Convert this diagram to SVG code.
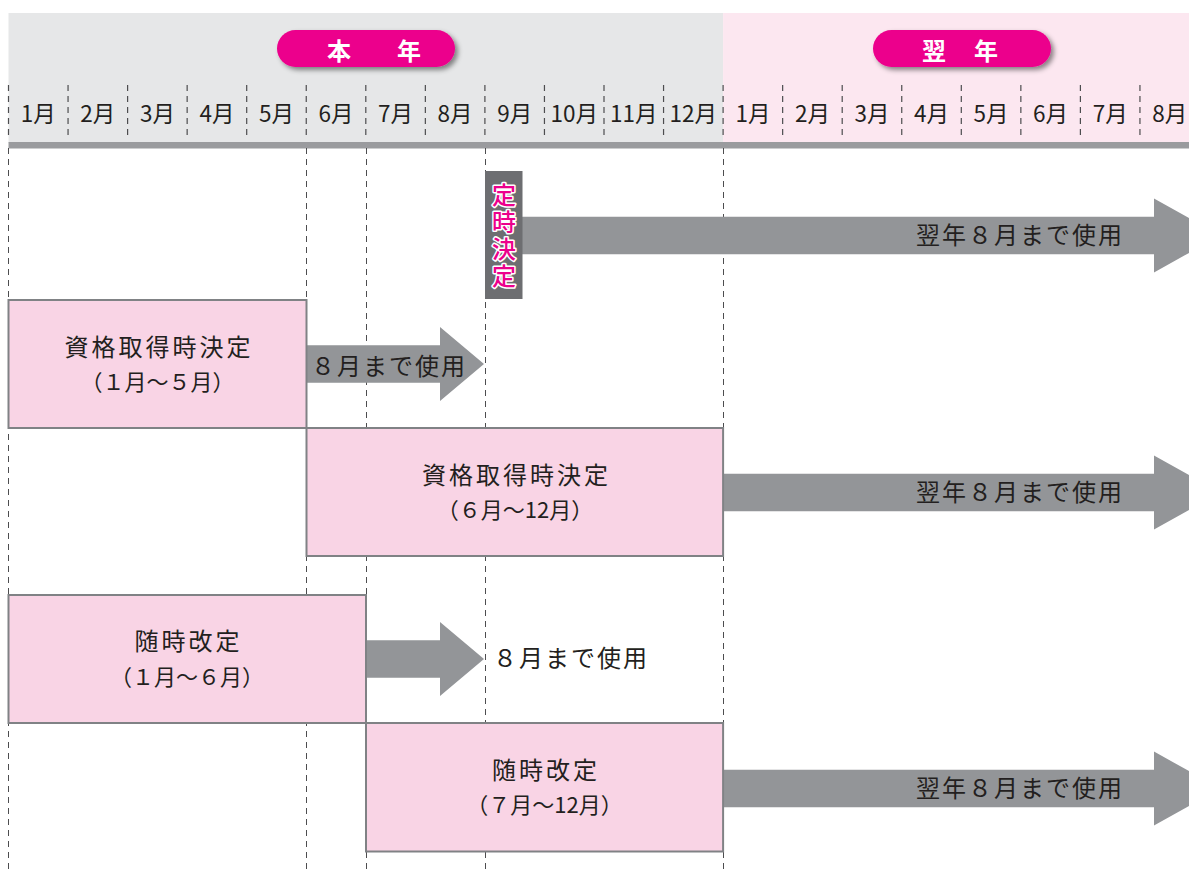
<svg xmlns="http://www.w3.org/2000/svg" width="1189" height="869" viewBox="0 0 1189 869">
<style>
text{font-family:"Noto Sans CJK JP","Noto Sans",sans-serif;fill:#231f20}
.m{font-size:22.5px;text-anchor:middle}
.pill{fill:#ec008c}
.pt{font-size:24px;font-weight:700;fill:#fff}
.hd{stroke:#4d4d4f;stroke-width:1.2;stroke-dasharray:6 5;fill:none}
.vd{stroke:#4d4d4f;stroke-width:1;stroke-dasharray:6 5;fill:none}
.box{fill:#f9d4e5;stroke:#808285;stroke-width:2}
.arr{fill:#939598}
.l1{font-size:24px;letter-spacing:3px;text-anchor:middle}
.l2{font-size:22px;text-anchor:middle}
.at{font-size:24px;letter-spacing:2px}
.vt{font-size:24px;font-weight:500;fill:#ec008c;stroke:#fff;stroke-width:3;paint-order:stroke;stroke-linejoin:round;letter-spacing:3px}
</style>
<defs>
<filter id="sh" x="-20%" y="-40%" width="140%" height="200%">
<feDropShadow dx="3" dy="3" stdDeviation="2.5" flood-color="#000" flood-opacity="0.45"/>
</filter>
</defs>
<rect width="1189" height="869" fill="#fff"/>
<g id="header">
<rect x="8.5" y="13" width="714.6" height="130" fill="#e6e7e8"/>
<rect x="723.1" y="13" width="466" height="130" fill="#fce7f0"/>
<rect x="8.5" y="142" width="1181" height="6.5" fill="#9a9b9e"/>
<g id="pill-honnen">
<rect class="pill" x="277" y="30" width="178" height="37" rx="18.5" filter="url(#sh)"/>
<text class="pt" x="327 397" y="60">本年</text>
</g>
<g id="pill-yokunen">
<rect class="pill" x="873" y="30" width="178" height="37" rx="18.5" filter="url(#sh)"/>
<text class="pt" x="922 974" y="60">翌年</text>
</g>
<g id="month-dividers">
<path class="hd" d="M8.5,85V138M68.05,85V138M127.6,85V138M187.15,85V138M246.7,85V138M306.25,85V138M365.8,85V138M425.35,85V138M484.9,85V138M544.45,85V138M604,85V138M663.55,85V138M723.1,85V138M782.65,85V138M842.2,85V138M901.75,85V138M961.3,85V138M1020.85,85V138M1080.4,85V138M1139.95,85V138"/>
</g>
<g id="months">
<text class="m" x="38.3" y="122">1月</text>
<text class="m" x="97.8" y="122">2月</text>
<text class="m" x="157.4" y="122">3月</text>
<text class="m" x="216.9" y="122">4月</text>
<text class="m" x="276.5" y="122">5月</text>
<text class="m" x="336" y="122">6月</text>
<text class="m" x="395.6" y="122">7月</text>
<text class="m" x="455.1" y="122">8月</text>
<text class="m" x="514.7" y="122">9月</text>
<text class="m" x="574.2" y="122">10月</text>
<text class="m" x="633.8" y="122">11月</text>
<text class="m" x="693.3" y="122">12月</text>
<text class="m" x="752.9" y="122">1月</text>
<text class="m" x="812.4" y="122">2月</text>
<text class="m" x="872" y="122">3月</text>
<text class="m" x="931.5" y="122">4月</text>
<text class="m" x="991.1" y="122">5月</text>
<text class="m" x="1050.6" y="122">6月</text>
<text class="m" x="1110.2" y="122">7月</text>
<text class="m" x="1169.7" y="122">8月</text>
</g>
</g>
<g id="guides">
<path class="vd" d="M8.5,148V869M306.5,148V869M366.5,148V869M485.5,148V869M723.5,148V869"/>
</g>
<g id="connectors">
<path class="arr" d="M522,216.75H1154V198.5L1220,235.5L1154,272.5V254.25H522Z"/>
<path class="arr" d="M307,345.25H440V327L484,364L440,401V382.75H307Z"/>
<path class="arr" d="M723,473.75H1154V455.5L1220,492.5L1154,529.5V511.25H723Z"/>
<path class="arr" d="M366,640.25H440V622L484,659L440,696V677.75H366Z"/>
<path class="arr" d="M723,769.75H1154V751.5L1220,788.5L1154,825.5V807.25H723Z"/>
<text class="at" x="916" y="244">翌年８月まで使用</text>
<text class="at" x="311" y="375">８月まで使用</text>
<text class="at" x="916" y="501">翌年８月まで使用</text>
<text class="at" x="493" y="667">８月まで使用</text>
<text class="at" x="916" y="797">翌年８月まで使用</text>
</g>
<g id="teiji">
<rect x="485" y="171" width="37.5" height="128" fill="#6d6e71"/>
<text class="vt" x="504" y="183" writing-mode="vertical-rl">定時決定</text>
</g>
<g id="shikaku1">
<rect class="box" x="8.5" y="300" width="298" height="128"/>
<text class="l1" x="159" y="356">資格取得時決定</text>
<text class="l2" x="157.5" y="390">（１月～５月）</text>
</g>
<g id="shikaku2">
<rect class="box" x="306.5" y="428" width="416.6" height="128"/>
<text class="l1" x="516.5" y="484">資格取得時決定</text>
<text class="l2" x="515" y="518">（６月～12月）</text>
</g>
<g id="zuiji1">
<rect class="box" x="8.5" y="595" width="357.5" height="128"/>
<text class="l1" x="188.5" y="650">随時改定</text>
<text class="l2" x="187" y="685">（１月～６月）</text>
</g>
<g id="zuiji2">
<rect class="box" x="366" y="723" width="357.1" height="128.5"/>
<text class="l1" x="546" y="779">随時改定</text>
<text class="l2" x="544.5" y="813">（７月～12月）</text>
</g>
</svg>
